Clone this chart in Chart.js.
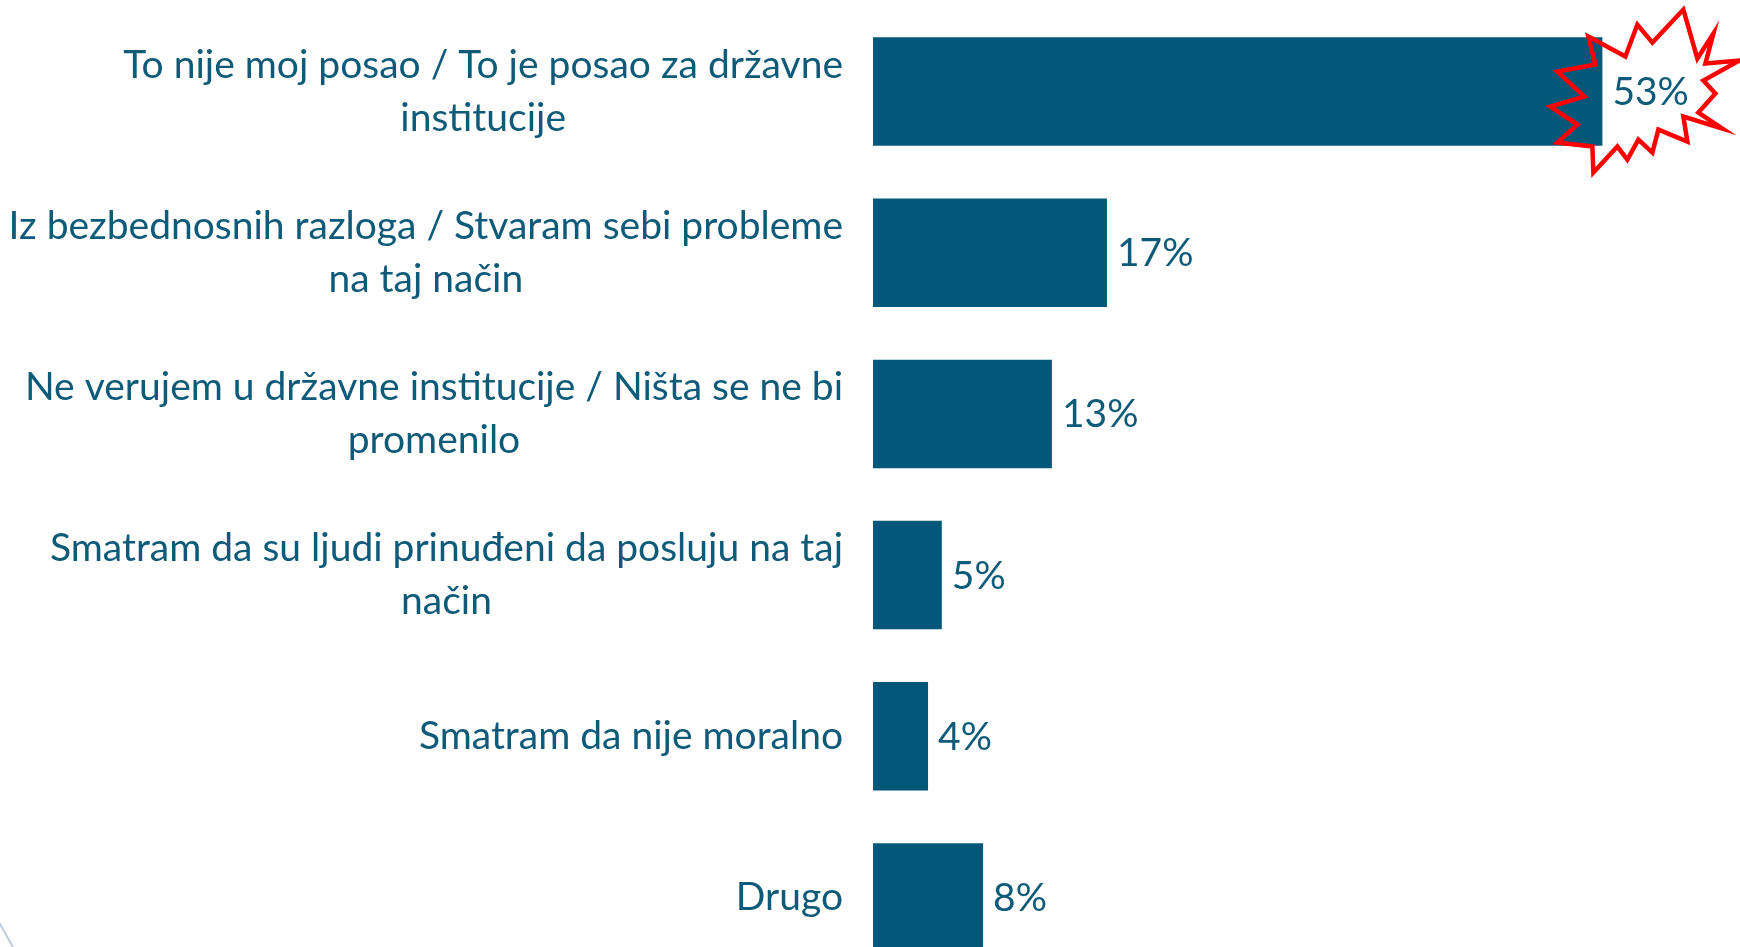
<!DOCTYPE html>
<html>
<head>
<meta charset="utf-8">
<script src="https://cdn.jsdelivr.net/npm/chart.js@4.4.1/dist/chart.umd.min.js"></script>
<style>
  html, body { margin: 0; padding: 0; background: #ffffff; overflow: hidden; }
  #wrap { position: relative; width: 1740px; height: 980px; }
</style>
</head>
<body>
<div id="wrap"><canvas id="c"></canvas></div>
<script>
// ---- Data ----
const categories = [
  ["To nije moj posao / To je posao za državne", "institucije"],
  ["Iz bezbednosnih razloga / Stvaram sebi probleme", "na taj način"],
  ["Ne verujem u državne institucije / Ništa se ne bi", "promenilo"],
  ["Smatram da su ljudi prinuđeni da posluju na taj", "način"],
  ["Smatram da nije moralno"],
  ["Drugo"]
];
const values = [53, 17, 13, 5, 4, 8];
const valueLabels = ["53%", "17%", "13%", "5%", "4%", "8%"];
const highlightIndex = 0;

// ---- Style ----
const BAR_COLOR = '#03587A';
const TEXT_COLOR = '#0E5A79';
const FONT = '39px Lato';
const LINE_GAP = 53;
const LABEL_RIGHT_GAP = 30;

// starburst outline offsets relative to the end of the highlighted bar
const starShape = [
  [-14,-55],[23,-35],[35,-67],[50,-49],[81,-82],[95,-33],[111,-58],[103,-28],
  [137,-31],[101,-11],[113,2],[96,21],[120,37],[81,25],[85,50],[56,38],
  [50,61],[36,48],[25,68],[15,55],[-9,81],[-10,55],[-45,51],[-25,33],
  [-52,15],[-18,5],[-45,-20],[-7,-27]
];

const drawPlugin = {
  id: 'customDraw',
  afterDatasetsDraw(chart) {
    const ctx = chart.ctx;
    const meta = chart.getDatasetMeta(0);
    const yScale = chart.scales.y;

    // starburst
    const hb = meta.data[highlightIndex];
    ctx.save();
    ctx.beginPath();
    starShape.forEach((p, i) => {
      const x = hb.x + p[0], y = hb.y + p[1];
      if (i === 0) ctx.moveTo(x, y); else ctx.lineTo(x, y);
    });
    ctx.closePath();
    ctx.lineWidth = 4.5;
    ctx.lineJoin = 'miter';
    ctx.strokeStyle = '#FF0000';
    ctx.stroke();
    ctx.restore();

    // value labels
    ctx.save();
    ctx.font = FONT;
    ctx.fillStyle = TEXT_COLOR;
    ctx.textAlign = 'left';
    ctx.textBaseline = 'middle';
    meta.data.forEach((bar, i) => {
      ctx.fillText(valueLabels[i], bar.x + 10, bar.y + 1);
    });

    // category labels: block right-aligned, lines centered within block
    const rightX = chart.chartArea.left - LABEL_RIGHT_GAP;
    categories.forEach((lines, i) => {
      const cy = yScale.getPixelForTick(i);
      const maxW = Math.max(...lines.map(l => ctx.measureText(l).width));
      const cx = rightX - maxW / 2;
      ctx.textAlign = 'center';
      lines.forEach((l, j) => {
        ctx.fillText(l, cx, cy + (j - (lines.length - 1) / 2) * LINE_GAP);
      });
    });
    ctx.restore();

    // faint slide decoration arc at bottom-left
    ctx.save();
    ctx.beginPath();
    ctx.strokeStyle = '#C3CCDC';
    ctx.lineWidth = 2;
    ctx.arc(600, 600, 682, Math.PI * 148 / 180, Math.PI * 154 / 180, false);
    ctx.stroke();
    ctx.restore();
  }
};

new Chart(document.getElementById('c'), {
  type: 'bar',
  data: {
    labels: categories,
    datasets: [{
      data: values,
      backgroundColor: BAR_COLOR,
      borderWidth: 0,
      categoryPercentage: 1.0,
      barPercentage: 0.673
    }]
  },
  options: {
    indexAxis: 'y',
    responsive: true,
    maintainAspectRatio: false,
    animation: false,
    layout: { padding: { top: 11, bottom: 2, left: 0, right: 0 } },
    plugins: { legend: { display: false }, tooltip: { enabled: false } },
    scales: {
      x: { display: false, min: 0, max: 63 },
      y: {
        display: true,
        grid: { display: false, drawTicks: false },
        border: { display: false },
        ticks: { display: false },
        afterFit(scale) { scale.width = 873; }
      }
    }
  },
  plugins: [drawPlugin]
});
</script>
</body>
</html>
